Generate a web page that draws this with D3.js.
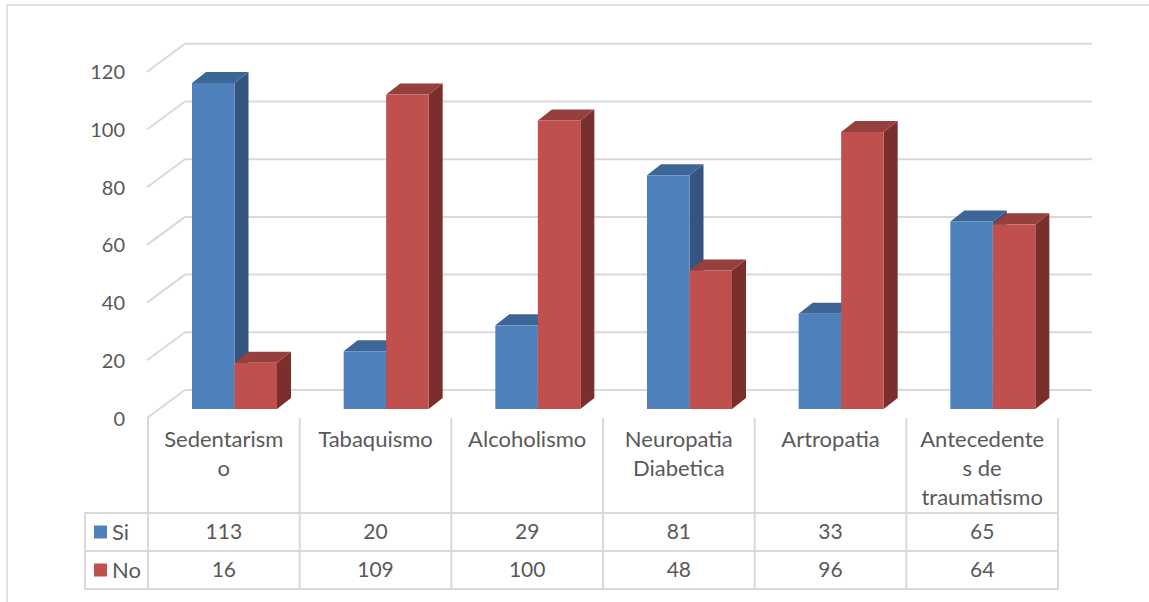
<!DOCTYPE html>
<html>
<head>
<meta charset="utf-8">
<script src="https://cdn.jsdelivr.net/npm/d3@7"></script>
<style>
  html, body { margin: 0; padding: 0; background: #ffffff; }
  svg { display: block; }
  text { font-family: Lato, "Open Sans", sans-serif; fill: #595959; }
</style>
</head>
<body>
<div id="chart"></div>
<script>
// Risk factors, counts per answer
const categories = ["Sedentarismo", "Tabaquismo", "Alcoholismo", "Neuropatia Diabetica", "Artropatia", "Antecedentes de traumatismo"];
const categoryLines = [["Sedentarism", "o"], ["Tabaquismo"], ["Alcoholismo"], ["Neuropatia", "Diabetica"], ["Artropatia"], ["Antecedente", "s de", "traumatismo"]];
const seriesNames = ["Si", "No"];
const siValues = [113, 20, 29, 81, 33, 65];
const noValues = [16, 109, 100, 48, 96, 64];
const yTicks = [0, 20, 40, 60, 80, 100, 120];

const W = 1149, H = 602;
const svg = d3.select("#chart").append("svg").attr("width", W).attr("height", H);

// chart frame
svg.append("rect").attr("x", 7).attr("y", 5).attr("width", W + 10).attr("height", H + 10)
  .attr("fill", "#fff").attr("stroke", "#d9d9d9").attr("stroke-width", 1.5);

// scales (bar front plane)
const y = d3.scaleLinear().domain([0, 120]).range([409, 62.8]);
const x = d3.scaleBand().domain(categories).range([148, 1058]).paddingInner(0).paddingOuter(0);

// 3D geometry
const floorFront = 9;     // y offset of floor front edge from the bar plane
const wallBack = -19;     // y offset of back wall from the bar plane
const wallLeft = 185, wallRight = 1092, floorLeft = 147;
const depthDx = 14, depthDy = -11;
const barInset = 44, barW = 42.5;

const colors = {
  Si: { front: "#4f81bd", top: "#3d6696", side: "#34557f" },
  No: { front: "#c0504d", top: "#96403d", side: "#7b2f2d" }
};

const grid = svg.append("g");
yTicks.forEach(v => {
  const yb = y(v) + wallBack, yf = y(v) + floorFront;
  grid.append("line").attr("x1", wallLeft).attr("x2", wallRight).attr("y1", yb).attr("y2", yb)
    .attr("stroke", "#d9d9d9").attr("stroke-width", 2);
  grid.append("line").attr("x1", floorLeft).attr("y1", yf).attr("x2", wallLeft).attr("y2", yb)
    .attr("stroke", "#d9d9d9").attr("stroke-width", 2);
  grid.append("text").attr("x", 125).attr("y", yf + 0.5).attr("dy", "0.35em")
    .attr("text-anchor", "end").attr("font-size", 20).text(v);
});

// bars
const series = [siValues, noValues];
const bars = svg.append("g");
categories.forEach((c, i) => {
  series.forEach((vals, s) => {
    const col = colors[seriesNames[s]];
    const x0 = x(c) + barInset + s * barW, x1 = x0 + barW;
    const yt = y(vals[i]), yb = y(0);
    const side = [[x1, yb], [x1, yt], [x1 + depthDx, yt + depthDy], [x1 + depthDx, yb + depthDy]];
    const top = [[x0, yt], [x0 + depthDx, yt + depthDy], [x1 + depthDx, yt + depthDy], [x1, yt]];
    bars.append("polygon").attr("points", side.join(" ")).attr("fill", col.side);
    bars.append("polygon").attr("points", top.join(" ")).attr("fill", col.top);
    bars.append("rect").attr("x", x0).attr("y", yt).attr("width", barW).attr("height", yb - yt)
      .attr("fill", col.front);
  });
});

// data table
const tbl = svg.append("g");
const lineColor = "#d9d9d9";
const tableTop = 418, rowSi = 513, rowNo = 551, tableBottom = 589, tableLeft = 85;
const xs = categories.map(c => x(c)).concat([x.range()[1]]);
xs.forEach(xx => {
  tbl.append("line").attr("x1", xx).attr("x2", xx).attr("y1", tableTop).attr("y2", tableBottom)
    .attr("stroke", lineColor).attr("stroke-width", 2);
});
tbl.append("line").attr("x1", tableLeft).attr("x2", tableLeft).attr("y1", rowSi).attr("y2", tableBottom)
  .attr("stroke", lineColor).attr("stroke-width", 2);
[rowSi, rowNo, tableBottom].forEach(yy => {
  tbl.append("line").attr("x1", tableLeft - 1).attr("x2", x.range()[1] + 1).attr("y1", yy).attr("y2", yy)
    .attr("stroke", lineColor).attr("stroke-width", 2);
});

// category labels
categories.forEach((c, i) => {
  const cx = x(c) + x.bandwidth() / 2;
  const t = tbl.append("text").attr("text-anchor", "middle").attr("font-size", 22);
  categoryLines[i].forEach((ln, k) => {
    t.append("tspan").attr("x", cx).attr("y", 447 + k * 29).text(ln);
  });
});

// value rows with legend keys
[siValues, noValues].forEach((vals, s) => {
  const cy = s === 0 ? 532 : 570;
  tbl.append("rect").attr("x", 94).attr("y", cy - 6.5).attr("width", 13).attr("height", 13)
    .attr("fill", colors[seriesNames[s]].front);
  tbl.append("text").attr("x", 112).attr("y", cy).attr("dy", "0.35em").attr("font-size", 22)
    .text(seriesNames[s]);
  categories.forEach((c, i) => {
    tbl.append("text").attr("x", x(c) + x.bandwidth() / 2).attr("y", cy).attr("dy", "0.35em")
      .attr("text-anchor", "middle").attr("font-size", 21).text(vals[i]);
  });
});
</script>
</body>
</html>
